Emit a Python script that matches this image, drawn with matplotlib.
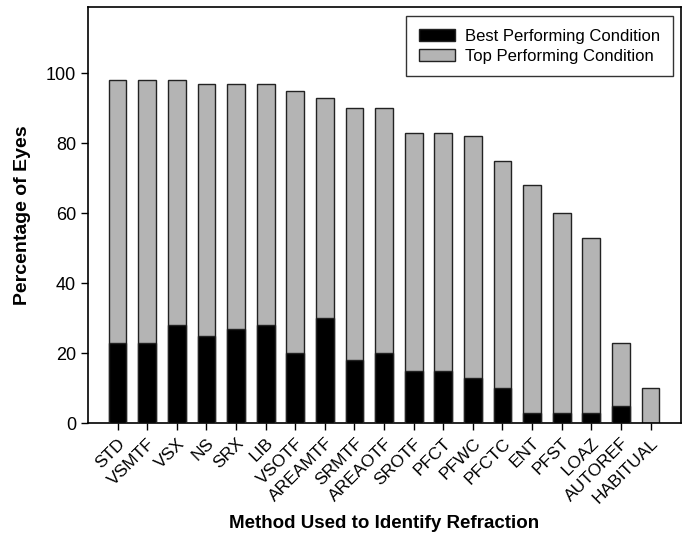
import matplotlib
matplotlib.use("Agg")
import matplotlib.pyplot as plt
import numpy as np

plt.rcParams['font.family'] = ['Liberation Sans', 'DejaVu Sans']

methods = ["STD", "VSMTF", "VSX", "NS", "SRX", "LIB", "VSOTF", "AREAMTF", "SRMTF",
           "AREAOTF", "SROTF", "PFCT", "PFWC", "PFCTC", "ENT", "PFST", "LOAZ",
           "AUTOREF", "HABITUAL"]
top_performing = [98, 98, 98, 97, 97, 97, 95, 93, 90, 90, 83, 83, 82, 75, 68, 60, 53, 23, 10]
best_performing = [23, 23, 28, 25, 27, 28, 20, 30, 18, 20, 15, 15, 13, 10, 3, 3, 3, 5, 0]
y_ticks = [0, 20, 40, 60, 80, 100]

fig = plt.figure(figsize=(6.86, 5.46), dpi=100)
ax = fig.add_axes([88/686, 1 - 423/546, (681-88)/686, (423-7)/546])

x = np.arange(len(methods))
ax.bar(x, top_performing, width=0.6, color="#b4b4b4", edgecolor="#222222", linewidth=1.0,
       label="Top Performing Condition", zorder=2)
ax.bar(x, best_performing, width=0.6, color="black", edgecolor="#222222", linewidth=1.0,
       label="Best Performing Condition", zorder=3)

ax.set_xlim(-1, 19.03)
ax.set_ylim(0, 119)
ax.set_yticks(y_ticks)
ax.set_xticks(x)
ax.set_xticklabels(methods, rotation=45, ha="right", rotation_mode="anchor", fontsize=12.5)
ax.tick_params(axis="y", labelsize=13, direction="out", length=5, width=1)
ax.tick_params(axis="x", direction="out", length=5, width=1, pad=4)
for s in ax.spines.values():
    s.set_linewidth(1.2)

ax.set_ylabel("Percentage of Eyes", fontsize=14, fontweight="bold", labelpad=11)
ax.set_xlabel("Method Used to Identify Refraction", fontsize=13.5, fontweight="bold", labelpad=6)

handles, labels = ax.get_legend_handles_labels()
leg = ax.legend(handles[::-1], labels[::-1], loc="upper right", fontsize=12, frameon=True,
                fancybox=False, edgecolor="black", borderaxespad=0.0, handlelength=2.2,
                handleheight=0.75, labelspacing=0.3, borderpad=0.75, handletextpad=0.6,
                bbox_to_anchor=(0.9865, 0.978))
leg.get_frame().set_linewidth(1.0)

fig.savefig("out.png", dpi=100)
